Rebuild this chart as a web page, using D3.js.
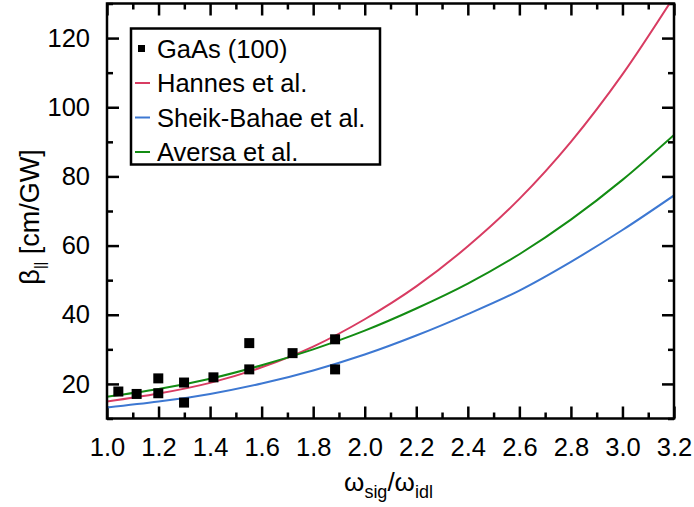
<!DOCTYPE html>
<html>
<head>
<meta charset="utf-8">
<script src="https://cdn.jsdelivr.net/npm/d3@7"></script>
<style>
  body { margin: 0; background: #fff; }
  text { font-family: "Liberation Sans", Arial, Helvetica, sans-serif; fill: #000; }
</style>
</head>
<body>
<div id="chart"></div>
<script>
// measured points, GaAs (100)
var dataX = [1.044, 1.115, 1.199, 1.199, 1.299, 1.299, 1.413, 1.552, 1.552, 1.72, 1.885, 1.885];
var dataY = [17.8, 17.1, 21.6, 17.3, 20.4, 14.6, 21.9, 31.8, 24.2, 28.9, 32.9, 24.2];

var curveX = [1.0, 1.2, 1.4, 1.6, 1.8, 2.0, 2.2, 2.4, 2.6, 2.8, 3.0, 3.2];
var hannes = [14.9, 17.2, 20.3, 24.8, 30.8, 38.7, 48.2, 59.8, 73.5, 90.0, 109.5, 132.0];
var sheikBahae = [13.2, 14.9, 17.1, 20.1, 23.9, 28.5, 34.0, 40.2, 47.0, 55.3, 64.5, 74.5];
var aversa = [16.3, 18.5, 21.5, 25.4, 30.0, 35.4, 41.8, 49.0, 57.5, 67.5, 79.0, 92.0];

var xTicks = [1.0, 1.2, 1.4, 1.6, 1.8, 2.0, 2.2, 2.4, 2.6, 2.8, 3.0, 3.2];
var yTicks = [20, 40, 60, 80, 100, 120];

var legendNames = ["GaAs (100)", "Hannes et al.", "Sheik-Bahae et al.", "Aversa et al."];
var colors = {red: "#d83c62", blue: "#3d78d2", green: "#138c13"};

var width = 694, height = 507;
var margin = {top: 3.5, right: 20, bottom: 88.5, left: 107};
var w = width - margin.left - margin.right;
var h = height - margin.top - margin.bottom;

var svg = d3.select("#chart")
    .append("svg")
    .attr("width", width)
    .attr("height", height);

var g = svg.append("g")
    .attr("transform", "translate(" + margin.left + "," + margin.top + ")");

var x = d3.scaleLinear().domain([1.0, 3.2]).range([0, w]);
var y = d3.scaleLinear().domain([10, 130]).range([h, 0]);

g.append("clipPath").attr("id", "clip")
    .append("rect").attr("width", w).attr("height", h);

var minorX = d3.range(1.1, 3.2, 0.2);
var minorY = [10, 30, 50, 70, 90, 110, 130];

// tick marks, all pointing inward, mirrored on every side
function tickAxis(axis, trans) {
    var a = g.append("g").attr("transform", trans).call(axis);
    a.select(".domain").remove();
    a.selectAll("line").attr("stroke", "#000").attr("stroke-width", 2.5);
    return a;
}

var bottom = tickAxis(d3.axisBottom(x).tickValues(xTicks).tickSize(-12).tickPadding(19)
    .tickFormat(d3.format(".1f")), "translate(0," + h + ")");
bottom.selectAll("text").style("font-size", "25.5px").attr("dy", "0.71em");
tickAxis(d3.axisBottom(x).tickValues(minorX).tickSize(-6).tickFormat(""), "translate(0," + h + ")");
tickAxis(d3.axisTop(x).tickValues(xTicks).tickSize(-12).tickFormat(""), "translate(0,0)");
tickAxis(d3.axisTop(x).tickValues(minorX).tickSize(-6).tickFormat(""), "translate(0,0)");

var left = tickAxis(d3.axisLeft(y).tickValues(yTicks).tickSize(-12).tickPadding(17), "translate(0,0)");
left.selectAll("text").style("font-size", "25.5px");
tickAxis(d3.axisLeft(y).tickValues(minorY).tickSize(-6).tickFormat(""), "translate(0,0)");
tickAxis(d3.axisRight(y).tickValues(yTicks).tickSize(-12).tickFormat(""), "translate(" + w + ",0)");
tickAxis(d3.axisRight(y).tickValues(minorY).tickSize(-6).tickFormat(""), "translate(" + w + ",0)");

g.selectAll(".tick text").attr("fill", "#000");

// curves
var line = d3.line()
    .x(function(d) { return x(d[0]); })
    .y(function(d) { return y(d[1]); })
    .curve(d3.curveMonotoneX);

var series = [
    {vals: hannes, color: colors.red},
    {vals: sheikBahae, color: colors.blue},
    {vals: aversa, color: colors.green}
];

g.append("g").attr("clip-path", "url(#clip)")
    .selectAll("path")
    .data(series)
    .enter()
    .append("path")
    .attr("d", function(s) { return line(curveX.map(function(v, i) { return [v, s.vals[i]]; })); })
    .attr("fill", "none")
    .attr("stroke", function(s) { return s.color; })
    .attr("stroke-width", 2);

// data squares
var sq = 10;
g.selectAll(".pt")
    .data(dataX.map(function(v, i) { return [v, dataY[i]]; }))
    .enter()
    .append("rect")
    .attr("class", "pt")
    .attr("x", function(d) { return x(d[0]) - sq / 2; })
    .attr("y", function(d) { return y(d[1]) - sq / 2; })
    .attr("width", sq)
    .attr("height", sq)
    .attr("fill", "#000");

// frame
g.append("rect")
    .attr("width", w).attr("height", h)
    .attr("fill", "none").attr("stroke", "#000").attr("stroke-width", 2.5);

// legend
var leg = svg.append("g").attr("transform", "translate(131,28.5)");
leg.append("rect")
    .attr("width", 249).attr("height", 136)
    .attr("fill", "#fff").attr("stroke", "#000").attr("stroke-width", 2.5);

var legColors = [null, colors.red, colors.blue, colors.green];
legendNames.forEach(function(name, i) {
    var cy = 20 + i * 34.5;
    if (i === 0) {
        leg.append("rect").attr("x", 7).attr("y", cy - 3.5).attr("width", 7).attr("height", 7).attr("fill", "#000");
    } else {
        leg.append("line").attr("x1", 4).attr("x2", 19).attr("y1", cy).attr("y2", cy)
            .attr("stroke", legColors[i]).attr("stroke-width", 2);
    }
    leg.append("text")
        .attr("x", 26).attr("y", cy + 9)
        .style("font-size", "25.5px")
        .text(name);
});

// axis titles
var xt = svg.append("text")
    .attr("x", margin.left + w / 2 - 2)
    .attr("y", 491)
    .attr("text-anchor", "middle")
    .style("font-size", "26px");
xt.append("tspan").text("\u03c9");
xt.append("tspan").attr("dy", 7).style("font-size", "18px").text("sig");
xt.append("tspan").attr("dy", -7).text("/\u03c9");
xt.append("tspan").attr("dy", 7).style("font-size", "18px").text("idl");

var yt = svg.append("text")
    .attr("transform", "translate(39,217) rotate(-90)")
    .attr("text-anchor", "middle")
    .style("font-size", "27px");
yt.append("tspan").text("\u03b2");
yt.append("tspan").attr("dy", 6).style("font-size", "14px").text("||");
yt.append("tspan").attr("dy", -6).text("  [cm/GW]");
</script>
</body>
</html>
